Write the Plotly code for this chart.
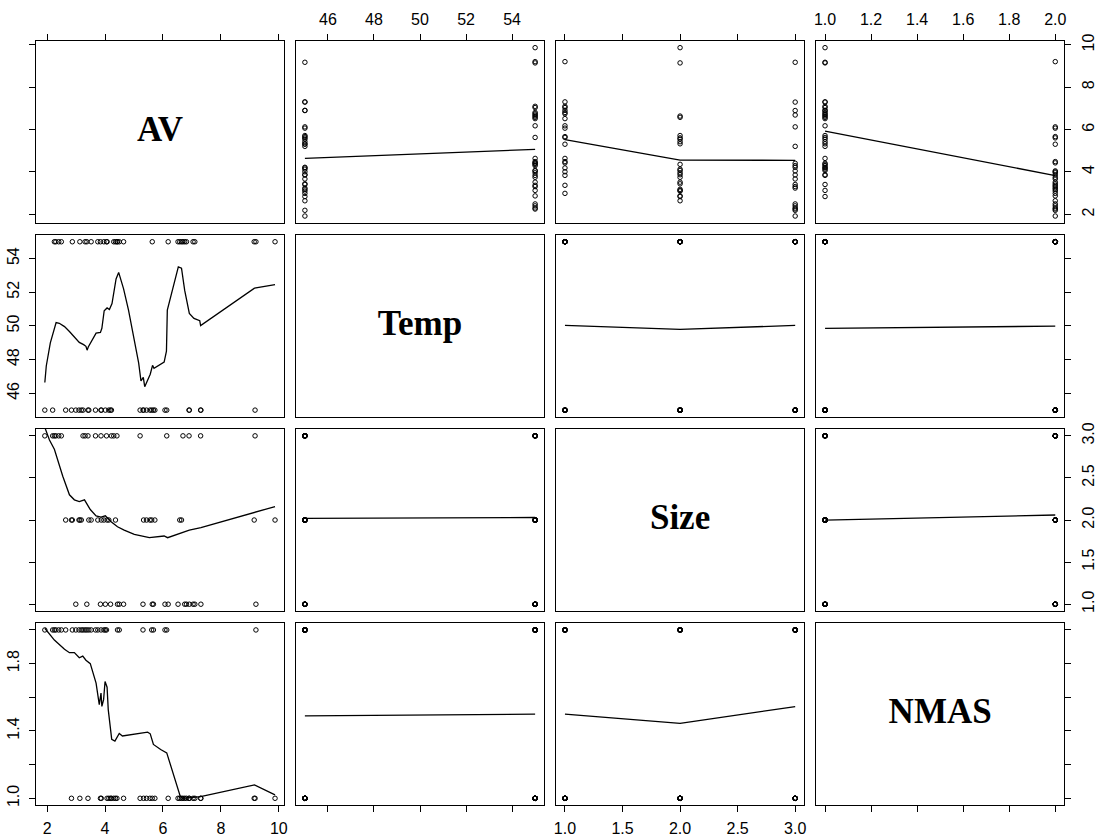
import plotly.graph_objects as go

# Observations: air voids, temperature, size class and nominal max aggregate size
AV = [1.92, 2.19, 2.25, 2.30, 2.40, 2.49, 2.64, 2.84, 2.87, 2.99,
      3.10, 3.13, 3.18, 3.24, 3.31, 3.37, 3.41, 3.44, 3.52, 3.67,
      3.75, 3.84, 3.86, 3.87, 3.96, 4.01, 4.05, 4.07, 4.13, 4.19,
      4.22, 4.30, 4.36, 4.41, 4.43, 4.49, 4.64, 5.21, 5.31, 5.33,
      5.43, 5.55, 5.61, 5.63, 5.67, 5.72, 6.07, 6.13, 6.18, 6.52,
      6.58, 6.64, 6.69, 6.75, 6.81, 6.90, 6.91, 7.04, 7.10, 7.30,
      7.31, 9.15, 9.18, 9.21, 9.87]
TEMP = [45, 45, 55, 55, 55, 55, 45, 45, 55, 45,
        45, 55, 45, 45, 55, 55, 45, 45, 55, 45,
        55, 55, 45, 45, 55, 45, 55, 55, 45, 45,
        45, 55, 55, 55, 55, 55, 55, 45, 45, 45,
        45, 45, 45, 55, 45, 45, 45, 45, 55, 55,
        55, 55, 55, 55, 55, 45, 45, 55, 55, 45,
        45, 55, 45, 55, 55]
SIZE = [3, 3, 3, 3, 3, 3, 2, 2, 2, 1,
        2, 2, 2, 3, 3, 1, 3, 2, 2, 3,
        2, 1, 3, 2, 2, 1, 3, 2, 2, 1,
        3, 3, 2, 3, 1, 1, 1, 3, 1, 2,
        2, 2, 2, 1, 1, 2, 1, 3, 1, 1,
        2, 2, 3, 1, 1, 3, 1, 1, 1, 3,
        1, 2, 3, 1, 2]
NMAS = [2, 2, 2, 2, 2, 2, 2, 1, 2, 2,
        2, 1, 2, 2, 2, 2, 1, 2, 2, 2,
        2, 1, 2, 1, 2, 2, 2, 1, 1, 1,
        1, 1, 1, 1, 2, 2, 1, 1, 2, 1,
        1, 1, 2, 1, 2, 1, 2, 2, 1, 1,
        1, 1, 1, 1, 1, 1, 1, 1, 1, 1,
        1, 1, 1, 2, 1]

VAR_NAMES = ["AV", "Temp", "Size", "NMAS"]

# Smoothed trend curves, one per off-diagonal panel (x values, y values)
TEMP_ON_AV_X = [1.92, 1.97, 2.11, 2.31, 2.42, 2.60, 2.77, 2.92, 3.03, 3.11, 3.26, 3.34,
                3.38, 3.42, 3.69, 3.84, 3.89, 3.97, 4.07, 4.15, 4.24, 4.38, 4.47, 4.64,
                4.81, 4.98, 5.16, 5.24, 5.32, 5.37, 5.56, 5.64, 5.69, 6.04, 6.12, 6.15,
                6.38, 6.53, 6.64, 6.75, 6.91, 7.07, 7.27, 7.30, 9.16, 9.87]
TEMP_ON_AV_Y = [46.64, 47.62, 48.99, 50.20, 50.16, 49.96, 49.67, 49.38, 49.22, 49.02, 48.89, 48.79,
                48.56, 48.75, 49.57, 49.61, 49.86, 50.90, 51.07, 50.98, 51.33, 52.79, 53.18, 52.20,
                50.94, 49.38, 47.81, 46.74, 46.94, 46.39, 47.13, 47.66, 47.48, 47.85, 48.50, 50.94,
                52.40, 53.51, 53.43, 52.11, 50.74, 50.45, 50.31, 50.02, 52.24, 52.46]
SIZE_ON_AV_X = [1.92, 2.08, 2.25, 2.54, 2.77, 2.94, 3.11, 3.29, 3.49, 3.69, 3.86, 4.01,
                4.21, 4.43, 4.66, 5.01, 5.53, 6.04, 6.16, 6.50, 6.91, 7.31, 9.87]
SIZE_ON_AV_Y = [3.10, 2.95, 2.84, 2.52, 2.30, 2.24, 2.22, 2.24, 2.125, 2.05, 2.035, 2.05,
                1.98, 1.92, 1.88, 1.83, 1.79, 1.81, 1.79, 1.83, 1.88, 1.91, 2.16]
NMAS_ON_AV_X = [1.92, 2.25, 2.60, 2.77, 2.94, 3.11, 3.23, 3.34, 3.49, 3.69, 3.80, 3.86,
                3.89, 3.95, 4.00, 4.07, 4.11, 4.18, 4.23, 4.34, 4.49, 4.60, 5.06, 5.47,
                5.56, 5.67, 5.92, 6.13, 6.59, 6.67, 7.30, 9.16, 9.87]
NMAS_ON_AV_Y = [2.01, 1.94, 1.885, 1.865, 1.865, 1.835, 1.845, 1.82, 1.80, 1.684, 1.556, 1.625,
                1.546, 1.586, 1.694, 1.66, 1.527, 1.43, 1.35, 1.34, 1.385, 1.37, 1.38, 1.393,
                1.383, 1.32, 1.29, 1.27, 1.016, 1.00, 1.01, 1.08, 1.02]
AV_ON_TEMP_X = [45, 55]
AV_ON_TEMP_Y = [4.64, 5.07]
AV_ON_SIZE_X = [1, 2, 3]
AV_ON_SIZE_Y = [5.53, 4.56, 4.55]
AV_ON_NMAS_X = [1, 2]
AV_ON_NMAS_Y = [5.93, 3.83]
TEMP_ON_SIZE_X = [1, 2, 3]
TEMP_ON_SIZE_Y = [50.03, 49.80, 50.03]
TEMP_ON_NMAS_X = [1, 2]
TEMP_ON_NMAS_Y = [49.85, 49.99]
SIZE_ON_TEMP_X = [45, 55]
SIZE_ON_TEMP_Y = [2.02, 2.03]
SIZE_ON_NMAS_X = [1, 2]
SIZE_ON_NMAS_Y = [2.00, 2.06]
NMAS_ON_TEMP_X = [45, 55]
NMAS_ON_TEMP_Y = [1.49, 1.50]
NMAS_ON_SIZE_X = [1, 2, 3]
NMAS_ON_SIZE_Y = [1.50, 1.445, 1.545]

# Tick values and labels per variable
TICK_VALS = [[2, 4, 6, 8, 10],
             [46, 48, 50, 52, 54],
             [1.0, 1.5, 2.0, 2.5, 3.0],
             [1.0, 1.2, 1.4, 1.6, 1.8, 2.0]]
TICK_TEXT_X = [["2", "4", "6", "8", "10"],
               ["46", "48", "50", "52", "54"],
               ["1.0", "1.5", "2.0", "2.5", "3.0"],
               ["1.0", "1.2", "1.4", "1.6", "1.8", "2.0"]]
TICK_TEXT_Y = [["2", "4", "6", "8", "10"],
               ["46", "48", "50", "52", "54"],
               ["1.0", "1.5", "2.0", "2.5", "3.0"],
               ["1.0", "", "1.4", "", "1.8", ""]]

columns = [AV, TEMP, SIZE, NMAS]
smooths = {
    (1, 0): (TEMP_ON_AV_X, TEMP_ON_AV_Y),
    (2, 0): (SIZE_ON_AV_X, SIZE_ON_AV_Y),
    (3, 0): (NMAS_ON_AV_X, NMAS_ON_AV_Y),
    (0, 1): (AV_ON_TEMP_X, AV_ON_TEMP_Y),
    (0, 2): (AV_ON_SIZE_X, AV_ON_SIZE_Y),
    (0, 3): (AV_ON_NMAS_X, AV_ON_NMAS_Y),
    (1, 2): (TEMP_ON_SIZE_X, TEMP_ON_SIZE_Y),
    (1, 3): (TEMP_ON_NMAS_X, TEMP_ON_NMAS_Y),
    (2, 1): (SIZE_ON_TEMP_X, SIZE_ON_TEMP_Y),
    (2, 3): (SIZE_ON_NMAS_X, SIZE_ON_NMAS_Y),
    (3, 1): (NMAS_ON_TEMP_X, NMAS_ON_TEMP_Y),
    (3, 2): (NMAS_ON_SIZE_X, NMAS_ON_SIZE_Y),
}


def padded_range(vals, frac=0.04):
    lo, hi = min(vals), max(vals)
    pad = (hi - lo) * frac
    return [lo - pad, hi + pad]


ranges = [padded_range(c) for c in columns]

W, H = 1098, 838
PANEL_W, PANEL_H = 250.0, 183.8
COL_LEFT = [33.8 + k * 261.5 for k in range(4)]
ROW_TOP = [34.3 + k * 196.2 for k in range(4)]

TICK_FONT = dict(family="Liberation Sans, Arial, sans-serif", size=16, color="black")
LABEL_FONT = dict(family="Liberation Serif, Times New Roman, serif", size=35, color="black")

fig = go.Figure()
layout = {}
n = 4
for i in range(n):
    for j in range(n):
        p = i * n + j + 1
        sfx = "" if p == 1 else str(p)
        xa, ya = "x" + sfx, "y" + sfx
        if i == j:
            rx = ranges[j]
            ry = ranges[i]
            fig.add_trace(go.Scatter(
                x=[(rx[0] + rx[1]) / 2], y=[(ry[0] + ry[1]) / 2],
                mode="text", text=["<b>" + VAR_NAMES[i] + "</b>"],
                textfont=LABEL_FONT, textposition="middle center",
                xaxis=xa, yaxis=ya, showlegend=False, hoverinfo="skip"))
        else:
            fig.add_trace(go.Scatter(
                x=columns[j], y=columns[i], mode="markers",
                marker=dict(symbol="circle-open", size=4.5, color="black",
                            line=dict(width=1, color="black")),
                xaxis=xa, yaxis=ya, showlegend=False))
            sx, sy = smooths[(i, j)]
            fig.add_trace(go.Scatter(
                x=sx, y=sy, mode="lines",
                line=dict(color="black", width=1.3),
                xaxis=xa, yaxis=ya, showlegend=False))

        left = COL_LEFT[j]
        top = ROW_TOP[i]
        xdom = [left / W, (left + PANEL_W) / W]
        ydom = [1 - (top + PANEL_H) / H, 1 - top / H]

        x_ticks = i in (0, n - 1)
        x_labels = (i == 0 and j % 2 == 1) or (i == n - 1 and j % 2 == 0)
        y_ticks = j in (0, n - 1)
        y_labels = (j == 0 and i % 2 == 1) or (j == n - 1 and i % 2 == 0)

        layout["xaxis" + sfx] = dict(
            domain=xdom, range=ranges[j], anchor=ya,
            side="top" if i == 0 else "bottom",
            showline=True, mirror=True, linecolor="black", linewidth=1,
            showgrid=False, zeroline=False,
            ticks="outside" if x_ticks else "", ticklen=6, tickwidth=1, tickcolor="black",
            tickvals=TICK_VALS[j], ticktext=TICK_TEXT_X[j],
            showticklabels=x_labels, tickfont=TICK_FONT, tickangle=0,
            ticklabelstandoff=3, fixedrange=True)
        layout["yaxis" + sfx] = dict(
            domain=ydom, range=ranges[i], anchor=xa,
            side="left" if j == 0 else "right",
            showline=True, mirror=True, linecolor="black", linewidth=1,
            showgrid=False, zeroline=False,
            ticks="outside" if y_ticks else "", ticklen=6, tickwidth=1, tickcolor="black",
            tickvals=TICK_VALS[i], ticktext=TICK_TEXT_Y[i],
            showticklabels=y_labels, tickfont=TICK_FONT, tickangle=-90,
            ticklabelstandoff=3, fixedrange=True)

fig.update_layout(
    width=W, height=H,
    margin=dict(l=0, r=0, t=0, b=0),
    paper_bgcolor="white", plot_bgcolor="white",
    showlegend=False,
    **layout)

fig.write_html("out.html")
